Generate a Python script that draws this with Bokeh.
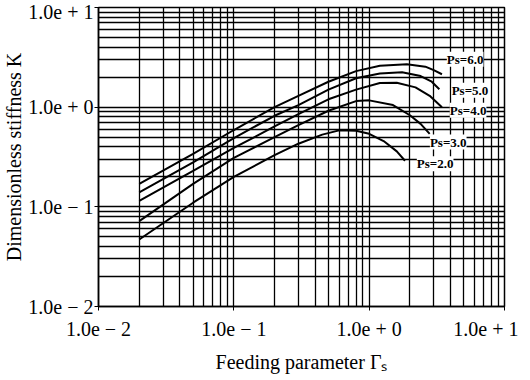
from bokeh.plotting import figure
from bokeh.models import FixedTicker, Label
from bokeh.embed import file_html
from bokeh.resources import INLINE

# Feeding parameter values (x) and dimensionless stiffness K for each supply pressure Ps
ps2_x = [0.02, 0.05, 0.1, 0.2, 0.3, 0.45, 0.6, 0.8, 1.0, 1.3, 1.6, 1.84]
ps2_k = [0.047, 0.11, 0.2, 0.33, 0.43, 0.53, 0.585, 0.58, 0.54, 0.45, 0.36, 0.29]

ps3_x = [0.02, 0.05, 0.1, 0.2, 0.3, 0.5, 0.8, 1.0, 1.5, 2.0, 2.4, 2.8]
ps3_k = [0.072, 0.17, 0.31, 0.5, 0.66, 0.92, 1.15, 1.17, 1.05, 0.83, 0.68, 0.54]

ps4_x = [0.02, 0.05, 0.1, 0.2, 0.3, 0.5, 0.8, 1.2, 1.6, 2.2, 2.8, 3.45]
ps4_k = [0.115, 0.23, 0.39, 0.64, 0.85, 1.2, 1.5, 1.75, 1.76, 1.58, 1.3, 1.0]

ps5_x = [0.02, 0.05, 0.1, 0.2, 0.3, 0.5, 0.8, 1.2, 1.75, 2.4, 2.9, 3.3]
ps5_k = [0.14, 0.28, 0.49, 0.82, 1.05, 1.5, 1.95, 2.18, 2.24, 2.05, 1.8, 1.51]

ps6_x = [0.02, 0.05, 0.1, 0.2, 0.3, 0.5, 0.8, 1.2, 1.9, 2.6, 3.0, 3.45]
ps6_k = [0.17, 0.34, 0.59, 1.0, 1.3, 1.8, 2.3, 2.6, 2.69, 2.55, 2.35, 2.14]

series_x = [ps2_x, ps3_x, ps4_x, ps5_x, ps6_x]
series_k = [ps2_k, ps3_k, ps4_k, ps5_k, ps6_k]
series_names = ["Ps=2.0", "Ps=3.0", "Ps=4.0", "Ps=5.0", "Ps=6.0"]
label_x = [2.25, 2.81, 3.94, 4.07, 3.75]
label_k = [0.27, 0.447, 0.93, 1.48, 3.02]

major_ticks = [0.01, 0.1, 1.0, 10.0]
x_tick_labels = ["1.0e − 2", "1.0e − 1", "1.0e + 0", "1.0e + 1"]
y_tick_labels = ["1.0e − 2", "1.0e − 1", "1.0e + 0", "1.0e + 1"]
minor_ticks = [m * 10.0 ** e for e in range(-2, 1) for m in range(2, 10)]

FONT = "Liberation Serif"

p = figure(frame_width=406, frame_height=299, x_axis_type="log", y_axis_type="log",
           x_range=(0.01, 10), y_range=(0.01, 10),
           output_backend="svg", toolbar_location=None,
           min_border_left=94, min_border_right=14, min_border_top=7, min_border_bottom=58,
           x_axis_label="Feeding parameter Γₛ", y_axis_label="Dimensionless stiffness K")

for ax, labels in ((p.xaxis[0], x_tick_labels), (p.yaxis[0], y_tick_labels)):
    ax.ticker = FixedTicker(ticks=major_ticks, minor_ticks=minor_ticks)
    ax.major_label_overrides = {t: l for t, l in zip(major_ticks, labels)}
    ax.major_label_text_font = FONT
    ax.major_label_text_font_size = "20px"
    ax.major_label_text_color = "black"
    ax.axis_label_text_font = FONT
    ax.axis_label_text_font_size = "20px"
    ax.axis_label_text_font_style = "normal"
    ax.axis_label_text_color = "black"
    ax.axis_line_color = "black"
    ax.axis_line_width = 1.5
    ax.major_tick_line_color = "black"
    ax.major_tick_in = 0
    ax.major_tick_out = 4
    ax.minor_tick_line_color = None

p.yaxis.major_label_standoff = 1
p.yaxis.axis_label_standoff = 0
p.xaxis.major_label_standoff = 7
p.xaxis.axis_label_standoff = 8

for g in (p.xgrid[0], p.ygrid[0]):
    g.grid_line_color = "black"
    g.grid_line_width = 1.3
    g.grid_line_alpha = 1.0
    g.minor_grid_line_color = "black"
    g.minor_grid_line_width = 1.3

p.outline_line_color = "black"
p.outline_line_width = 1.5
p.background_fill_color = "white"
p.border_fill_color = "white"

for xs, ks in zip(series_x, series_k):
    p.line(xs, ks, line_color="black", line_width=2)

for name, lx, lk in zip(series_names, label_x, label_k):
    p.add_layout(Label(x=lx, y=lk, text=name, text_font=FONT, text_font_size="13px",
                       text_font_style="bold", text_baseline="middle", text_align="left",
                       background_fill_color="white", text_color="black"))

open("out.html", "w").write(file_html(p, INLINE))
